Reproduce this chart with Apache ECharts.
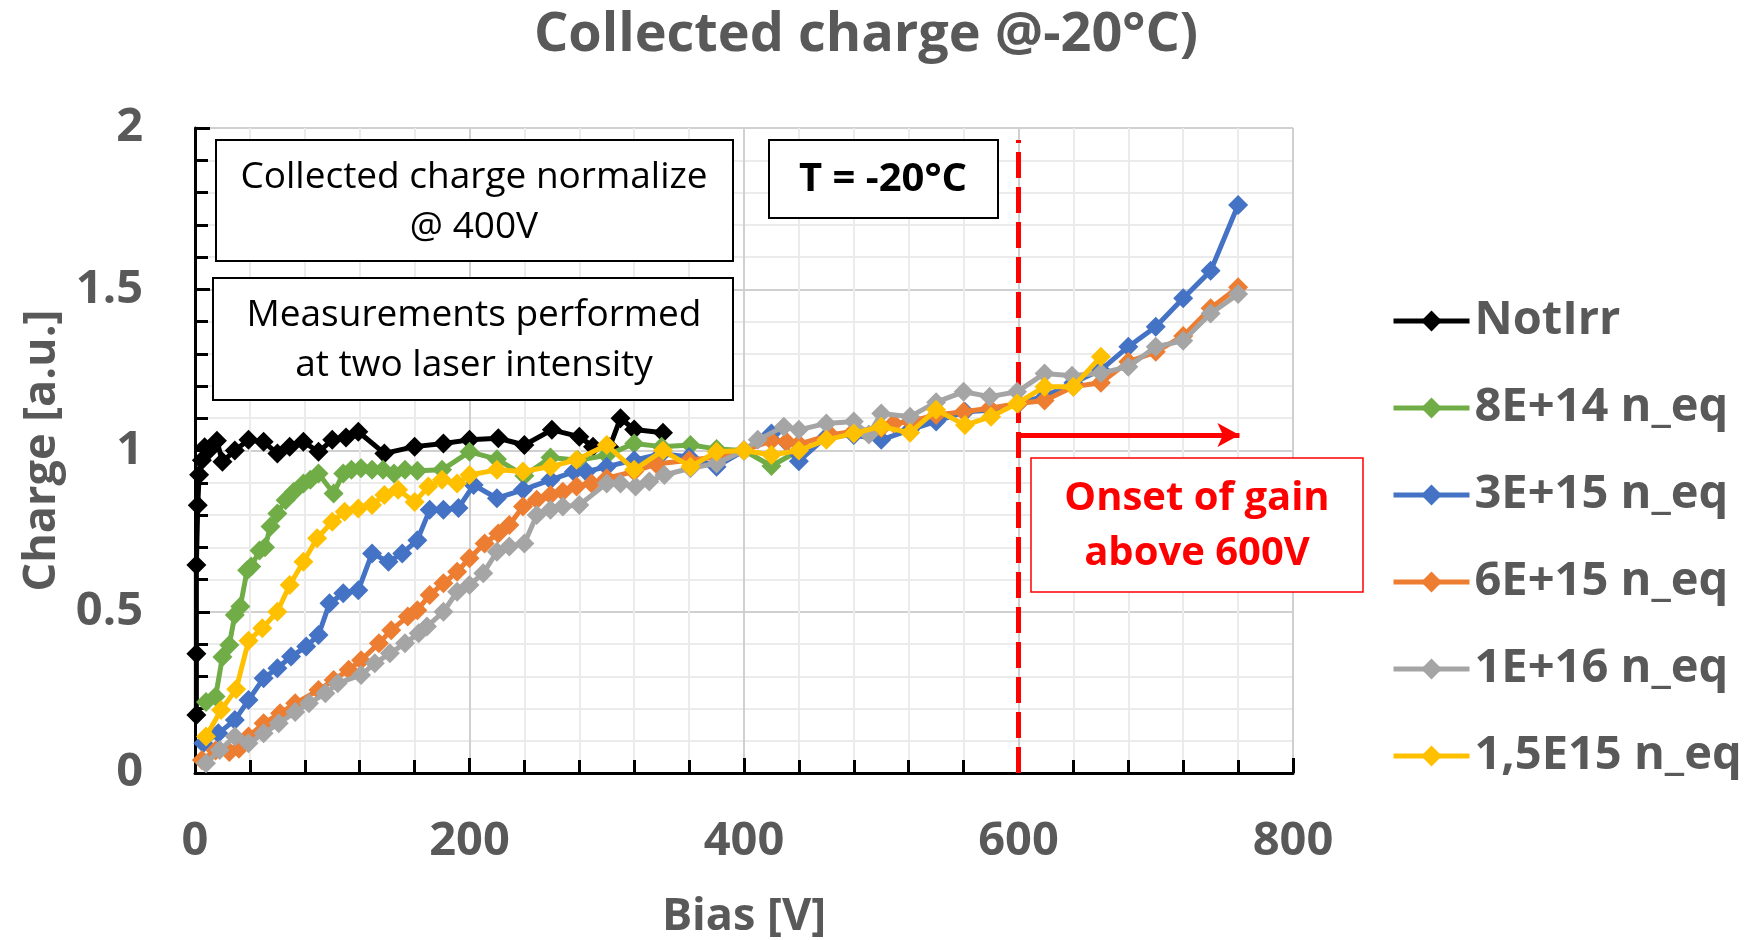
<!DOCTYPE html>
<html><head><meta charset="utf-8">
<script src="https://cdn.jsdelivr.net/npm/echarts@6/dist/echarts.min.js"></script>
<style>html,body{margin:0;padding:0;background:#fff}#c{width:1752px;height:940px}</style>
</head><body><div id="c"></div>
<script>
// ---- data (Bias [V], Charge [a.u.]) ----
const seriesNames = ['NotIrr', '8E+14 n_eq', '3E+15 n_eq', '6E+15 n_eq', '1E+16 n_eq', '1,5E15 n_eq'];
const xTicks = [0, 200, 400, 600, 800];
const yTicks = [0, 0.5, 1, 1.5, 2];

const notIrr = [[1,0.18],[1,0.37],[1,0.645],[2,0.83],[3,0.925],[5,0.97],[7,1.01],[10,1.0],[16,1.03],[20,0.965],[29,1.0],[39,1.033],[50,1.027],[60,0.991],[69,1.012],[79,1.027],[90,0.996],[100,1.033],[110,1.04],[119,1.058],[138,0.991],[160,1.012],[181,1.022],[200,1.033],[221,1.038],[240,1.017],[260,1.064],[280,1.043],[290,1.012],[302,1.01],[310,1.1],[320,1.065],[341,1.055]];

const n8e14 = [[8,0.22],[15,0.237],[20,0.36],[25,0.397],[29,0.49],[33,0.516],[38,0.629],[41,0.64],[47,0.69],[51,0.70],[55,0.764],[60,0.805],[66,0.846],[72,0.872],[79,0.898],[84,0.909],[90,0.929],[101,0.867],[108,0.929],[114,0.94],[121,0.945],[129,0.94],[137,0.94],[145,0.929],[153,0.94],[162,0.937],[180,0.94],[200,0.996],[220,0.973],[240,0.922],[259,0.978],[279,0.97],[300,0.985],[320,1.022],[340,1.012],[361,1.017],[380,1.005],[400,1.0],[420,0.952],[440,1.0]];

const n3e15 = [[6,0.092],[17,0.123],[29,0.164],[39,0.226],[50,0.294],[60,0.325],[70,0.361],[81,0.392],[90,0.428],[98,0.526],[108,0.557],[119,0.567],[129,0.681],[141,0.655],[151,0.681],[162,0.722],[171,0.816],[181,0.816],[192,0.822],[203,0.893],[220,0.852],[239,0.878],[259,0.909],[276,0.934],[285,0.934],[300,0.95],[320,0.97],[340,0.99],[360,0.98],[380,0.95],[400,1.0],[420,1.053],[440,0.967],[460,1.043],[480,1.048],[500,1.033],[521,1.064],[540,1.09],[561,1.12],[580,1.125],[600,1.146],[620,1.17],[640,1.21],[660,1.25],[680,1.322],[700,1.384],[720,1.472],[740,1.557],[760,1.761]];

const n6e15 = [[5,0.04],[15,0.07],[25,0.065],[32,0.075],[39,0.113],[50,0.154],[62,0.185],[73,0.216],[90,0.257],[101,0.288],[112,0.32],[121,0.35],[134,0.402],[143,0.443],[155,0.485],[162,0.505],[171,0.552],[181,0.588],[191,0.624],[200,0.666],[211,0.712],[221,0.743],[229,0.769],[239,0.826],[249,0.847],[259,0.862],[268,0.872],[278,0.888],[289,0.898],[300,0.914],[320,0.935],[336,0.958],[360,0.97],[380,0.98],[400,1.0],[420,1.03],[431,1.027],[440,1.02],[463,1.048],[480,1.06],[500,1.07],[509,1.084],[521,1.09],[540,1.11],[560,1.12],[579,1.131],[600,1.146],[619,1.155],[640,1.198],[660,1.21],[680,1.275],[700,1.306],[720,1.355],[740,1.441],[760,1.506]];

const n1e16 = [[8,0.03],[18,0.071],[29,0.113],[39,0.092],[50,0.123],[61,0.154],[73,0.189],[83,0.216],[95,0.247],[104,0.278],[121,0.304],[131,0.34],[142,0.371],[153,0.402],[163,0.433],[169,0.454],[181,0.5],[191,0.562],[200,0.583],[210,0.619],[220,0.686],[229,0.702],[240,0.712],[249,0.8],[259,0.816],[268,0.826],[280,0.831],[300,0.898],[310,0.898],[321,0.888],[331,0.904],[342,0.924],[361,0.945],[380,0.96],[400,1.0],[410,1.033],[429,1.074],[440,1.064],[460,1.084],[480,1.09],[491,1.05],[500,1.115],[521,1.105],[540,1.15],[560,1.182],[579,1.167],[599,1.182],[619,1.239],[639,1.232],[660,1.24],[680,1.26],[700,1.322],[720,1.34],[740,1.425],[760,1.485]];

const n15e15 = [[8,0.113],[19,0.195],[30,0.26],[39,0.41],[49,0.449],[60,0.5],[69,0.583],[79,0.655],[89,0.728],[100,0.779],[109,0.81],[119,0.82],[129,0.831],[138,0.862],[148,0.878],[160,0.84],[170,0.888],[180,0.909],[191,0.898],[200,0.924],[220,0.94],[239,0.935],[259,0.95],[278,0.971],[300,1.017],[320,0.94],[341,1.0],[361,0.95],[380,0.996],[400,1.0],[420,0.986],[440,1.0],[460,1.033],[480,1.053],[500,1.074],[521,1.055],[540,1.126],[561,1.079],[580,1.105],[599,1.146],[619,1.198],[640,1.198],[660,1.291]];

const seriesData = [notIrr, n8e14, n3e15, n6e15, n1e16, n15e15];
const seriesColors = ['#000000', '#70AD47', '#4472C4', '#ED7D31', '#A5A5A5', '#FFC000'];

// gain-onset markers (Bias, Charge)
const onsetBias = 600;
const dashTop = 1.963;
const arrowLevel = 1.048;
const arrowEnd = 761;

const FONT = "'Open Sans', 'DejaVu Sans', sans-serif";
const GRAY = '#595959';

const chart = echarts.init(document.getElementById('c'), null, {renderer: 'canvas'});

const series = seriesNames.map((name, i) => ({
  name: name,
  type: 'line',
  data: seriesData[i],
  symbol: 'diamond',
  symbolSize: 20,
  color: seriesColors[i],
  lineStyle: {width: 5, color: seriesColors[i]},
  itemStyle: {color: seriesColors[i]},
  z: 3 + i,
  animation: false
}));

series.push({
  name: 'markers',
  type: 'line',
  data: [],
  z: 20,
  silent: true,
  markLine: {
    silent: true,
    animation: false,
    symbol: ['none', 'none'],
    label: {show: false},
    emphasis: {disabled: true},
    data: [
      [{coord: [onsetBias, 0], lineStyle: {color: '#FF0000', width: 5, type: [26, 9]}}, {coord: [onsetBias, dashTop]}],
      [{coord: [onsetBias, arrowLevel], lineStyle: {color: '#FF0000', width: 5, type: 'solid'}},
       {coord: [arrowEnd, arrowLevel], symbol: 'arrow', symbolSize: [18, 22]}]
    ]
  }
});

const option = {
  backgroundColor: '#ffffff',
  animation: false,
  title: {
    text: 'Collected charge @-20°C)',
    left: 866, top: 9, textAlign: 'center', padding: 0,
    textStyle: {fontFamily: FONT, fontSize: 54, fontWeight: 'bold', color: GRAY}
  },
  grid: {left: 195, top: 128, width: 1098, height: 645, containLabel: false, outerBoundsMode: 'none'},
  legend: {
    data: seriesNames,
    orient: 'vertical',
    left: 1391, top: 296, padding: 0,
    itemWidth: 76, itemHeight: 26, itemGap: 37,
    lineStyle: {width: 5},
    textStyle: {fontFamily: FONT, fontSize: 47, fontWeight: 'bold', color: GRAY, lineHeight: 50}
  },
  xAxis: {
    type: 'value', min: xTicks[0], max: xTicks[xTicks.length - 1], interval: 200,
    name: 'Bias [V]', nameLocation: 'middle', nameGap: 122,
    nameTextStyle: {fontFamily: FONT, fontSize: 45, fontWeight: 'bold', color: GRAY},
    axisLine: {show: true, lineStyle: {color: '#000', width: 3}},
    axisTick: {show: true, inside: true, length: 15, lineStyle: {color: '#000', width: 3}},
    minorTick: {show: true, splitNumber: 5, length: 13, lineStyle: {color: '#000', width: 3}},
    axisLabel: {fontFamily: FONT, fontSize: 47, fontWeight: 'bold', color: GRAY, margin: 45},
    splitLine: {show: true, lineStyle: {color: '#d0d0d0', width: 2}},
    minorSplitLine: {show: true, lineStyle: {color: '#ebebeb', width: 2}}
  },
  yAxis: {
    type: 'value', min: yTicks[0], max: yTicks[yTicks.length - 1], interval: 0.5,
    name: 'Charge [a.u.]', nameLocation: 'middle', nameGap: 130,
    nameTextStyle: {fontFamily: FONT, fontSize: 45, fontWeight: 'bold', color: GRAY},
    axisLine: {show: true, lineStyle: {color: '#000', width: 3}},
    axisTick: {show: true, inside: true, length: 15, lineStyle: {color: '#000', width: 3}},
    minorTick: {show: true, splitNumber: 5, length: 13, lineStyle: {color: '#000', width: 3}},
    axisLabel: {fontFamily: FONT, fontSize: 47, fontWeight: 'bold', color: GRAY, margin: 52},
    splitLine: {show: true, lineStyle: {color: '#d0d0d0', width: 2}},
    minorSplitLine: {show: true, lineStyle: {color: '#ebebeb', width: 2}}
  },
  graphic: [
    {type: 'rect', z: 100, shape: {x: 216, y: 140, width: 517, height: 121}, style: {fill: '#fff', stroke: '#000', lineWidth: 2}},
    {type: 'text', z: 101, x: 474, y: 202, style: {text: 'Collected charge normalize\n@ 400V', fill: '#000', font: "37px " + FONT, align: 'center', verticalAlign: 'middle', lineHeight: 50}},
    {type: 'rect', z: 100, shape: {x: 213, y: 278, width: 520, height: 122}, style: {fill: '#fff', stroke: '#000', lineWidth: 2}},
    {type: 'text', z: 101, x: 474, y: 340, style: {text: 'Measurements performed\nat two laser intensity', fill: '#000', font: "37px " + FONT, align: 'center', verticalAlign: 'middle', lineHeight: 50}},
    {type: 'rect', z: 100, shape: {x: 769, y: 140, width: 229, height: 78}, style: {fill: '#fff', stroke: '#000', lineWidth: 2}},
    {type: 'text', z: 101, x: 883, y: 180, style: {text: 'T = -20°C', fill: '#000', font: "bold 40px " + FONT, align: 'center', verticalAlign: 'middle'}},
    {type: 'rect', z: 100, shape: {x: 1031, y: 458, width: 332, height: 134}, style: {fill: '#fff', stroke: '#FF0000', lineWidth: 1.5}},
    {type: 'text', z: 101, x: 1197, y: 526, style: {text: 'Onset of gain\nabove 600V', fill: '#FF0000', font: "bold 40px " + FONT, align: 'center', verticalAlign: 'middle', lineHeight: 55}}
  ],
  series: series
};
chart.setOption(option);
</script>
</body></html>
